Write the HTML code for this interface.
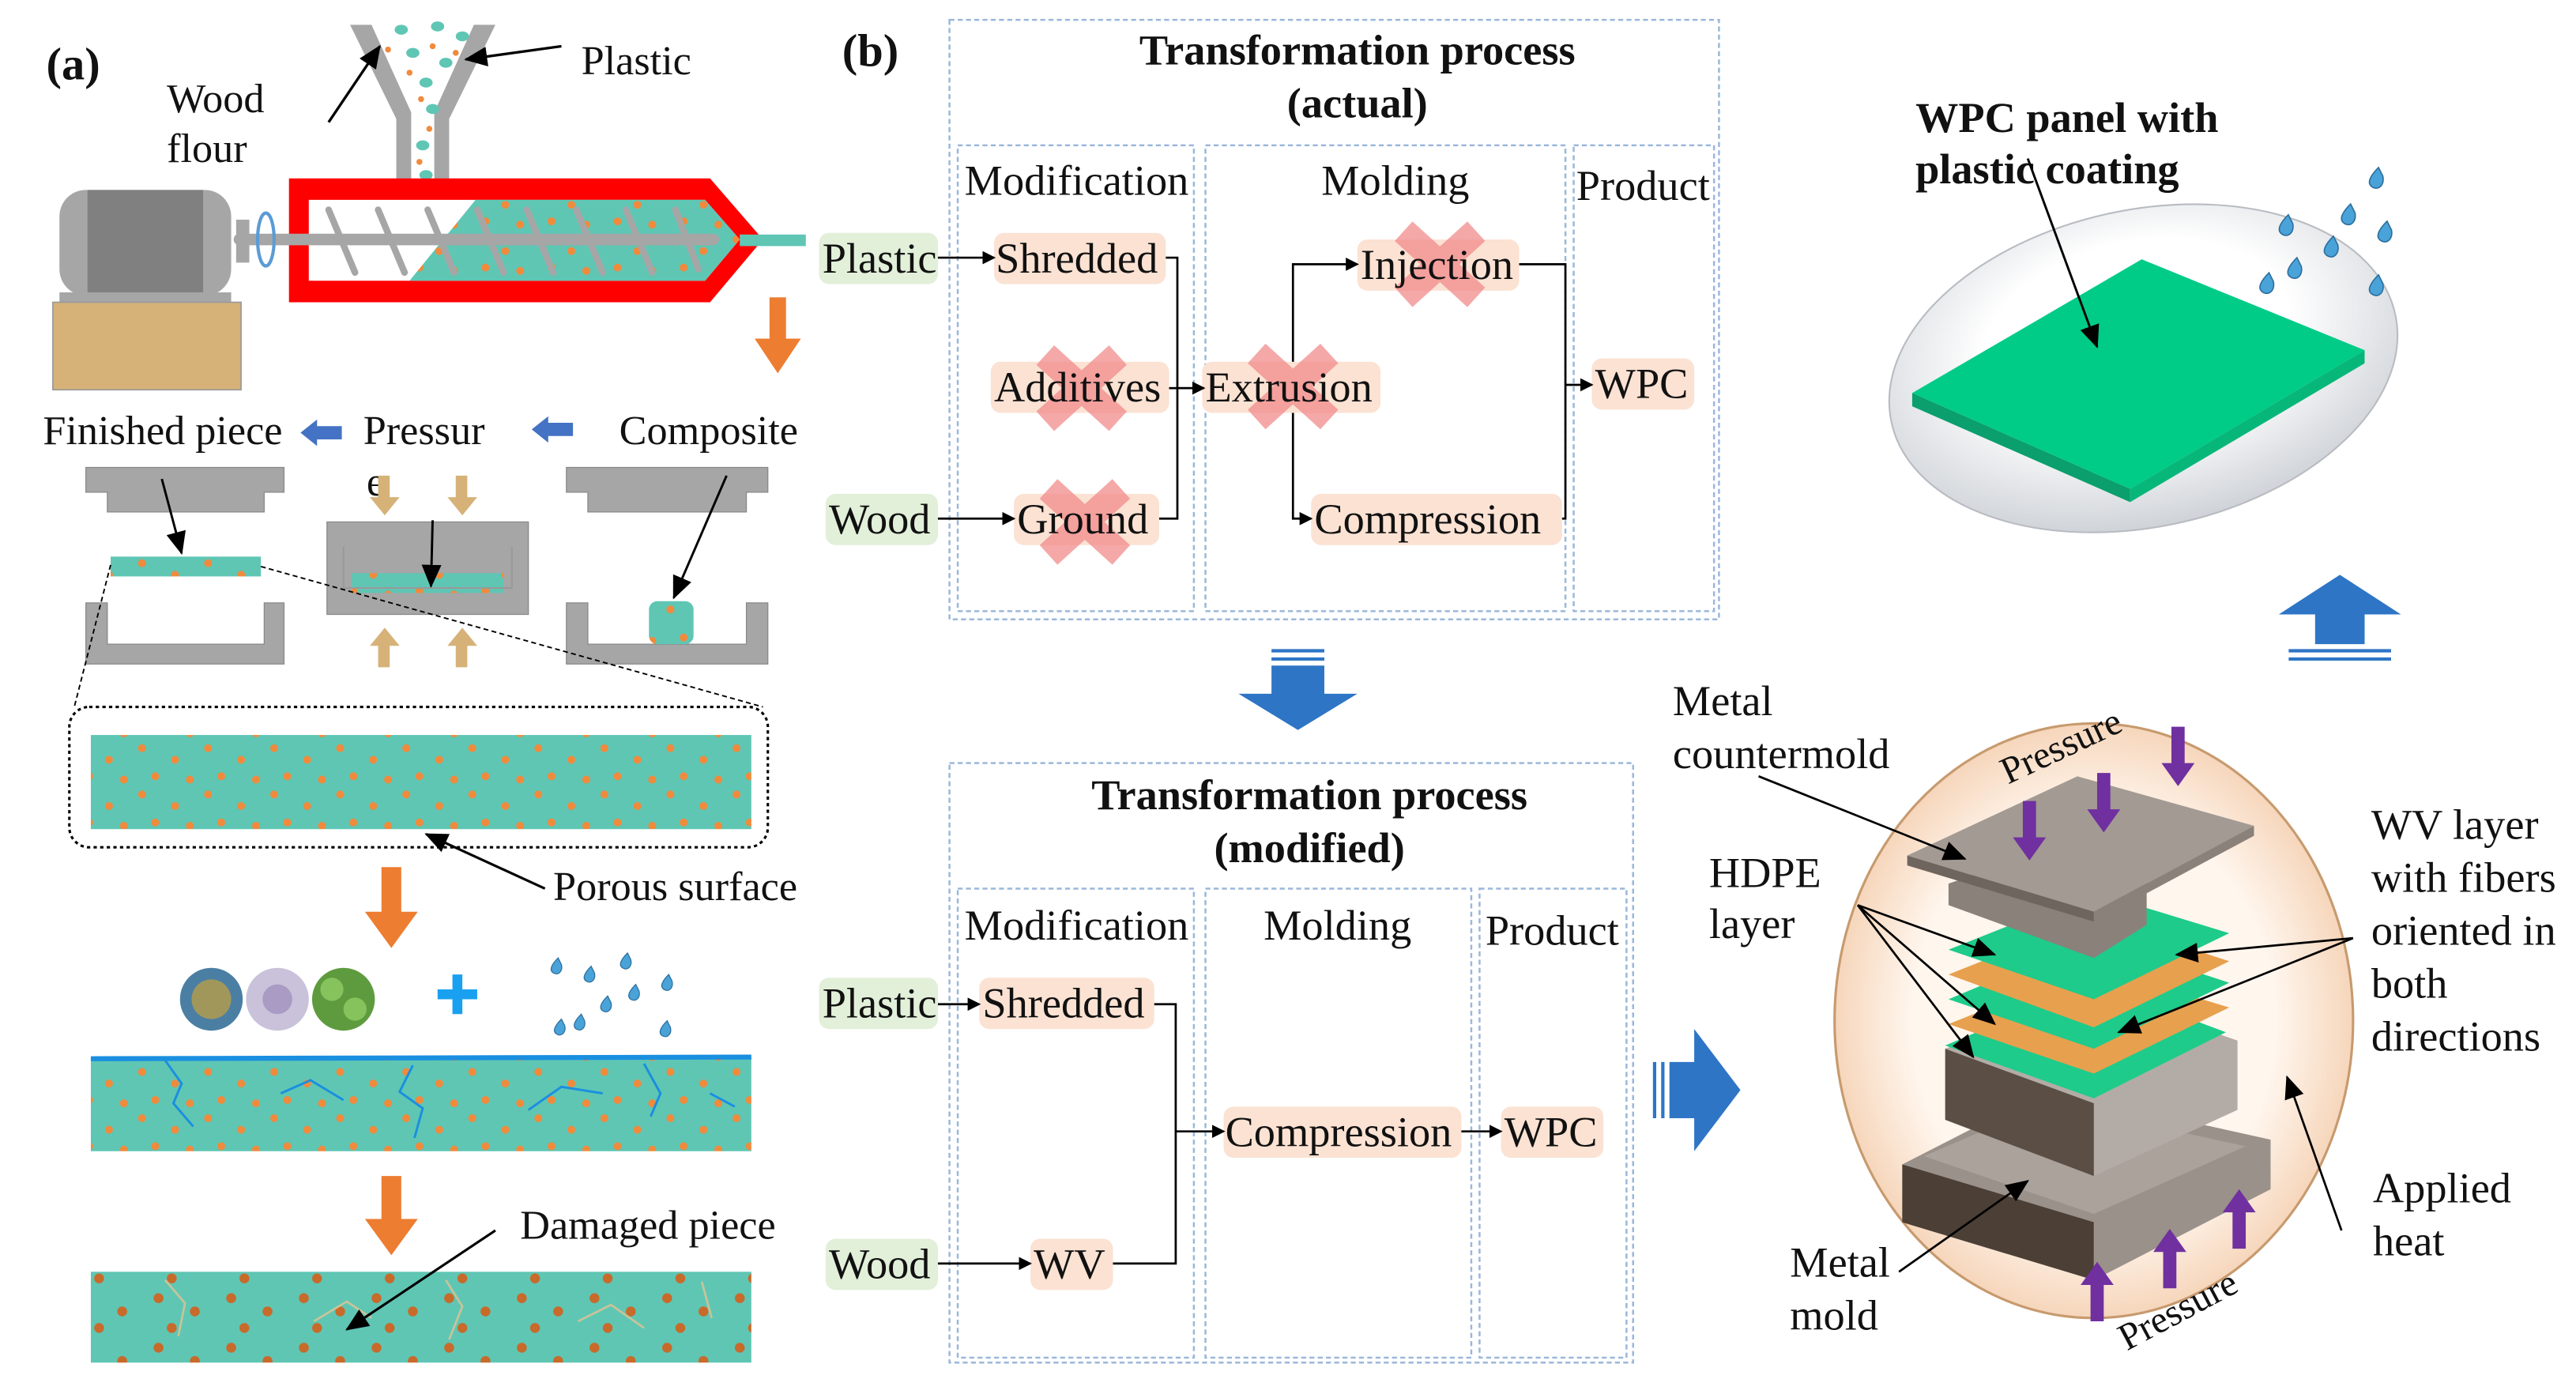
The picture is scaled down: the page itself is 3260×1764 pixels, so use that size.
<!DOCTYPE html>
<html><head><meta charset="utf-8"><style>
html,body{margin:0;padding:0;background:#fff;}
svg{display:block;}
text{font-family:"Liberation Serif",serif;fill:#111;}
</style></head><body>
<svg width="3260" height="1764" viewBox="0 0 1560 844" preserveAspectRatio="none" xmlns="http://www.w3.org/2000/svg">
<defs>
<pattern id="dots" width="40" height="28" patternUnits="userSpaceOnUse">
<rect width="40" height="28" fill="#5fc6b4"/>
<circle cx="6" cy="5" r="2.4" fill="#f08a3c"/><circle cx="26" cy="12" r="2.4" fill="#f08a3c"/><circle cx="14" cy="22" r="2.4" fill="#f08a3c"/><circle cx="35" cy="24" r="2.4" fill="#f08a3c"/>
</pattern>
<pattern id="dots2" width="44" height="30" patternUnits="userSpaceOnUse">
<rect width="44" height="30" fill="#5fc6b4"/>
<circle cx="8" cy="6" r="3" fill="#c86a2a"/><circle cx="30" cy="14" r="3" fill="#c86a2a"/><circle cx="16" cy="24" r="3" fill="#c86a2a"/>
</pattern>
<marker id="ar" markerWidth="8" markerHeight="8" refX="7" refY="4" orient="auto" markerUnits="userSpaceOnUse"><path d="M0,0 L8,4 L0,8 z" fill="#000"/></marker>
<marker id="arB" markerWidth="14" markerHeight="12" refX="13" refY="6" orient="auto" markerUnits="userSpaceOnUse"><path d="M0,0 L14,6 L0,12 z" fill="#000"/></marker>
<radialGradient id="peach" cx="0.5" cy="0.5" r="0.5"><stop offset="0.7" stop-color="#fff6ee"/><stop offset="1" stop-color="#f6d6bb"/></radialGradient>
<radialGradient id="glass" cx="0.5" cy="0.4" r="0.6"><stop offset="0.5" stop-color="#ffffff"/><stop offset="1" stop-color="#cfd3d8"/></radialGradient>
<g id="drop"><path d="M0,0 C-3,3 -6,7 -3,9 C0,11 3,8 2,4 Z" fill="#4aa3d8" stroke="#2c6f9e" stroke-width="0.6"/></g>
<g id="X"><path d="M-22,-20 L22,20 M22,-20 L-22,20" stroke="#f28b8b" stroke-width="16" opacity="0.75"/></g>
</defs>

<!-- ========== PANEL A ========== -->
<text x="28" y="48" font-size="28" font-weight="bold">(a)</text>
<text x="101" y="68" font-size="25">Wood</text>
<text x="101" y="98" font-size="25">flour</text>
<text x="352" y="45" font-size="25">Plastic</text>
<path d="M212,15 L225,15 L249,68 L249,110 L240,110 L240,72 Z" fill="#a6a6a6"/>
<path d="M300,15 L287,15 L263,68 L263,110 L272,110 L272,72 Z" fill="#a6a6a6"/>
<g fill="#5fc6b4"><ellipse cx="243" cy="18" rx="4" ry="3"/><ellipse cx="265" cy="16" rx="4" ry="3"/><ellipse cx="280" cy="22" rx="4" ry="3"/><ellipse cx="250" cy="32" rx="4" ry="3"/><ellipse cx="270" cy="38" rx="4" ry="3"/><ellipse cx="258" cy="50" rx="4" ry="3"/><ellipse cx="262" cy="66" rx="4" ry="3"/><ellipse cx="256" cy="88" rx="4" ry="3"/><ellipse cx="258" cy="106" rx="4" ry="3"/></g>
<g fill="#f08a3c"><circle cx="235" cy="30" r="1.8"/><circle cx="262" cy="28" r="1.8"/><circle cx="248" cy="44" r="1.8"/><circle cx="276" cy="32" r="1.8"/><circle cx="255" cy="60" r="1.8"/><circle cx="260" cy="78" r="1.8"/><circle cx="254" cy="98" r="1.8"/></g>
<line x1="199" y1="74" x2="230" y2="28" stroke="#000" stroke-width="1.6" marker-end="url(#arB)"/>
<line x1="340" y1="28" x2="282" y2="36" stroke="#000" stroke-width="1.6" marker-end="url(#arB)"/>
<path d="M175,108 L430,108 L462,145 L430,183 L175,183 Z" fill="#ff0000"/>
<path d="M187,121 L427,121 L448,145 L427,170 L187,170 Z" fill="#fff"/>
<path d="M248,170 L288,121 L427,121 L448,145 L427,170 Z" fill="url(#dots)"/>
<rect x="448" y="142" width="40" height="7" fill="#5fc6b4"/>
<line x1="145" y1="145" x2="432" y2="145" stroke="#a6a6a6" stroke-width="7" stroke-linecap="round"/>
<g stroke="#a6a6a6" stroke-width="4" stroke-linecap="round"><line x1="199" y1="127" x2="215" y2="165"/><line x1="229" y1="127" x2="245" y2="165"/><line x1="259" y1="127" x2="275" y2="165"/><line x1="289" y1="127" x2="305" y2="165"/><line x1="319" y1="127" x2="335" y2="165"/><line x1="349" y1="127" x2="365" y2="165"/><line x1="379" y1="127" x2="395" y2="165"/><line x1="409" y1="127" x2="423" y2="163"/></g>
<rect x="36" y="115" width="104" height="64" rx="16" fill="#a6a6a6"/>
<rect x="53" y="115" width="70" height="64" fill="#808080"/>
<rect x="143" y="133" width="8" height="26" fill="#a6a6a6"/>
<ellipse cx="161" cy="145" rx="5" ry="16" fill="none" stroke="#5b9bd5" stroke-width="2"/>
<rect x="36" y="177" width="104" height="6" fill="#a6a6a6"/>
<rect x="32" y="183" width="114" height="53" fill="#d6b279" stroke="#999" stroke-width="0.8"/>
<path d="M466,180 h10 v25 h9 l-14,21 l-14,-21 h9 z" fill="#ed7d31"/>
<text x="26" y="269" font-size="25">Finished piece</text>
<path d="M182,262 L192,254 L192,258 L207,258 L207,266 L192,266 L192,270 Z" fill="#4472c4"/>
<text x="220" y="269" font-size="25">Pressur</text>
<text x="222" y="300" font-size="25">e</text>
<path d="M322,260 L332,252 L332,256 L347,256 L347,264 L332,264 L332,268 Z" fill="#4472c4"/>
<text x="375" y="269" font-size="25">Composite</text>
<path d="M52,283 H172 V298 H160 V310 H65 V298 H52 Z" fill="#a6a6a6" stroke="#888" stroke-width="0.6"/>
<rect x="67" y="337" width="91" height="12" fill="url(#dots)"/>
<path d="M52,365 H65 V390 H160 V365 H172 V402 H52 Z" fill="#a6a6a6" stroke="#888" stroke-width="0.6"/>
<line x1="98" y1="290" x2="110" y2="335" stroke="#000" stroke-width="1.4" marker-end="url(#arB)"/>
<rect x="198" y="316" width="122" height="56" fill="#a6a6a6" stroke="#888" stroke-width="0.6"/>
<rect x="213" y="347" width="92" height="12" fill="url(#dots)"/>
<path d="M208,331 V356 H310 V331" fill="none" stroke="#999" stroke-width="1"/>
<line x1="262" y1="315" x2="261" y2="355" stroke="#000" stroke-width="1.4" marker-end="url(#arB)"/>
<g fill="#d6b279"><path d="M229,288 h7 v13 h6 l-9,11 l-9,-11 h5 z"/><path d="M276,288 h7 v13 h6 l-9,11 l-9,-11 h5 z"/><path d="M229,404 h7 v-13 h6 l-9,-11 l-9,11 h5 z"/><path d="M276,404 h7 v-13 h6 l-9,-11 l-9,11 h5 z"/></g>
<path d="M343,283 H465 V298 H452 V310 H356 V298 H343 Z" fill="#a6a6a6" stroke="#888" stroke-width="0.6"/>
<path d="M343,365 H356 V390 H452 V365 H465 V402 H343 Z" fill="#a6a6a6" stroke="#888" stroke-width="0.6"/>
<rect x="393" y="364" width="27" height="26" rx="5" fill="url(#dots)"/>
<line x1="440" y1="288" x2="408" y2="362" stroke="#000" stroke-width="1.4" marker-end="url(#arB)"/>
<line x1="67" y1="342" x2="45" y2="428" stroke="#000" stroke-width="0.9" stroke-dasharray="3,2"/>
<line x1="158" y1="343" x2="462" y2="428" stroke="#000" stroke-width="0.9" stroke-dasharray="3,2"/>
<rect x="42" y="428" width="423" height="85" rx="12" fill="none" stroke="#000" stroke-width="1.5" stroke-dasharray="2,2"/>
<rect x="55" y="445" width="400" height="57" fill="url(#dots)"/>
<line x1="330" y1="538" x2="258" y2="505" stroke="#000" stroke-width="1.5" marker-end="url(#arB)"/>
<text x="335" y="545" font-size="25">Porous surface</text>
<path d="M231,525 h12 v27 h10 l-16,22 l-16,-22 h10 z" fill="#ed7d31"/>
<circle cx="128" cy="605" r="19" fill="#4a7fa3"/><circle cx="128" cy="605" r="12" fill="#c7a13c" opacity="0.7"/>
<circle cx="168" cy="605" r="19" fill="#c9c2da"/><circle cx="168" cy="605" r="9" fill="#a99bc4"/>
<circle cx="208" cy="605" r="19" fill="#5e9b3f"/><circle cx="201" cy="599" r="7" fill="#86c35c"/><circle cx="215" cy="611" r="7" fill="#86c35c"/>
<path d="M265,602 h24 M277,590 v24" stroke="#1aa0f0" stroke-width="6"/>
<g><use href="#drop" x="338" y="580"/><use href="#drop" x="358" y="585"/><use href="#drop" x="380" y="577"/><use href="#drop" x="405" y="590"/><use href="#drop" x="385" y="596"/><use href="#drop" x="368" y="603"/><use href="#drop" x="352" y="614"/><use href="#drop" x="404" y="618"/><use href="#drop" x="340" y="617"/></g>
<rect x="55" y="640" width="400" height="57" fill="url(#dots)"/>
<line x1="55" y1="641" x2="455" y2="640" stroke="#1a8fe0" stroke-width="3"/>
<g stroke="#1a8fe0" stroke-width="1.4" fill="none"><path d="M100,642 l10,14 l-5,12 l12,14"/><path d="M170,662 l18,-8 l20,12"/><path d="M250,645 l-8,16 l14,10 l-5,18"/><path d="M320,672 l20,-14 l25,4"/><path d="M390,644 l10,18 l-6,14"/><path d="M430,662 l15,8"/></g>
<path d="M231,712 h12 v26 h10 l-16,22 l-16,-22 h10 z" fill="#ed7d31"/>
<text x="315" y="750" font-size="25">Damaged piece</text>
<rect x="55" y="770" width="400" height="55" fill="url(#dots2)"/>
<g stroke="#c8c49a" stroke-width="1.3" fill="none"><path d="M100,775 l12,14 l-4,20"/><path d="M190,800 l20,-12 l15,10"/><path d="M270,775 l10,16 l-8,20"/><path d="M350,800 l20,-10 l20,14"/><path d="M425,776 l6,22"/></g>
<line x1="300" y1="745" x2="210" y2="805" stroke="#000" stroke-width="1.5" marker-end="url(#arB)"/>

<!-- ========== PANEL B ========== -->
<text x="510" y="40" font-size="28" font-weight="bold">(b)</text>
<g fill="none" stroke="#9bb7da" stroke-width="1.2" stroke-dasharray="3,2">
<rect x="575" y="12" width="466" height="363"/>
<rect x="580" y="88" width="143" height="282"/><rect x="730" y="88" width="218" height="282"/><rect x="953" y="88" width="85" height="282"/>
<rect x="575" y="462" width="414" height="363"/>
<rect x="580" y="538" width="143" height="284"/><rect x="730" y="538" width="161" height="284"/><rect x="896" y="538" width="89" height="284"/>
</g>
<g font-size="26" font-weight="bold" text-anchor="middle"><text x="822" y="39">Transformation process</text><text x="822" y="71">(actual)</text><text x="793" y="490">Transformation process</text><text x="793" y="522">(modified)</text></g>
<g font-size="26" text-anchor="middle"><text x="652" y="118">Modification</text><text x="845" y="118">Molding</text><text x="995" y="121">Product</text><text x="652" y="569">Modification</text><text x="810" y="569">Molding</text><text x="940" y="572">Product</text></g>
<g fill="#e2efd9"><rect x="496" y="141" width="72" height="31" rx="6"/><rect x="500" y="299" width="68" height="31" rx="6"/><rect x="496" y="592" width="72" height="31" rx="6"/><rect x="500" y="750" width="68" height="31" rx="6"/></g>
<g fill="#fbe2d3"><rect x="602" y="141" width="104" height="31" rx="6"/><rect x="600" y="219" width="108" height="31" rx="6"/><rect x="728" y="219" width="108" height="31" rx="6"/><rect x="614" y="299" width="88" height="31" rx="6"/><rect x="822" y="145" width="98" height="31" rx="6"/><rect x="794" y="299" width="152" height="31" rx="6"/><rect x="964" y="217" width="62" height="31" rx="6"/>
<rect x="593" y="592" width="106" height="31" rx="6"/><rect x="624" y="750" width="50" height="31" rx="6"/><rect x="741" y="670" width="144" height="31" rx="6"/><rect x="909" y="670" width="62" height="31" rx="6"/></g>
<use href="#X" x="655" y="235"/><use href="#X" x="657" y="316"/><use href="#X" x="783" y="234"/><use href="#X" x="872" y="160"/>
<g font-size="26"><text x="498" y="165">Plastic</text><text x="603" y="165">Shredded</text><text x="602" y="243">Additives</text><text x="730" y="243">Extrusion</text><text x="502" y="323">Wood</text><text x="616" y="323">Ground</text><text x="824" y="169">Injection</text><text x="796" y="323">Compression</text><text x="966" y="241">WPC</text>
<text x="498" y="616">Plastic</text><text x="595" y="616">Shredded</text><text x="502" y="774">Wood</text><text x="626" y="774">WV</text><text x="742" y="694">Compression</text><text x="911" y="694">WPC</text></g>
<g stroke="#000" stroke-width="1.3" fill="none">
<line x1="568" y1="156" x2="602" y2="156" marker-end="url(#ar)"/>
<line x1="568" y1="314" x2="614" y2="314" marker-end="url(#ar)"/>
<polyline points="706,156 713,156 713,314 702,314"/>
<line x1="708" y1="235" x2="713" y2="235"/>
<line x1="713" y1="235" x2="729" y2="235" marker-end="url(#ar)"/>
<polyline points="783,219 783,160 822,160" marker-end="url(#ar)"/>
<polyline points="783,250 783,314 794,314" marker-end="url(#ar)"/>
<polyline points="920,160 948,160 948,314 946,314"/>
<line x1="948" y1="233" x2="964" y2="233" marker-end="url(#ar)"/>
<line x1="568" y1="608" x2="593" y2="608" marker-end="url(#ar)"/>
<line x1="568" y1="765" x2="624" y2="765" marker-end="url(#ar)"/>
<polyline points="699,608 712,608 712,765 674,765"/>
<line x1="712" y1="685" x2="741" y2="685" marker-end="url(#ar)"/>
<line x1="885" y1="685" x2="909" y2="685" marker-end="url(#ar)"/>
</g>
<path d="M770,393 h32 v2 h-32 z M770,398 h32 v2 h-32 z M770,403 h32 v17 h20 l-36,22 l-36,-22 h20 z" fill="#2e75c6"/>
<path d="M1001,643 h2 v34 h-2 z M1006,643 h2 v34 h-2 z M1011,643 h15 v-20 l28,37 l-28,37 v-20 h-15 z" fill="#2e75c6"/>
<path d="M1386,400 h62 v-2 h-62 z M1386,395 h62 v-2 h-62 z M1402,390 h30 v-18 h22 l-37,-24 l-37,24 h22 z" fill="#2e75c6"/>

<!-- WPC panel -->
<ellipse cx="1298" cy="223" rx="156" ry="96" fill="url(#glass)" stroke="#b8bcc2" stroke-width="1" transform="rotate(-12 1298 223)"/>
<path d="M1158,238 L1297,157 L1432,212 L1290,296 Z" fill="#00cc88"/>
<path d="M1158,238 L1290,296 L1290,304 L1158,246 Z" fill="#0a9f6c"/>
<path d="M1290,296 L1432,212 L1432,220 L1290,304 Z" fill="#07b77a"/>
<text x="1160" y="80" font-size="26" font-weight="bold">WPC panel with</text>
<text x="1160" y="111" font-size="26" font-weight="bold">plastic coating</text>
<line x1="1228" y1="96" x2="1270" y2="210" stroke="#000" stroke-width="1.4" marker-end="url(#arB)"/>
<g transform="scale(1.3)"><use href="#drop" x="1108" y="78"/><use href="#drop" x="1095" y="95"/><use href="#drop" x="1066" y="100"/><use href="#drop" x="1087" y="110"/><use href="#drop" x="1070" y="120"/><use href="#drop" x="1057" y="127"/><use href="#drop" x="1112" y="103"/><use href="#drop" x="1108" y="128"/></g>

<!-- mold circle -->
<ellipse cx="1268" cy="618" rx="157" ry="180" fill="url(#peach)" stroke="#c79a6e" stroke-width="1.5"/>
<path d="M1152,705 L1240,660 L1375,690 L1375,720 L1268,775 L1152,740 Z" fill="#9a918a"/>
<path d="M1152,705 L1268,740 L1268,775 L1152,740 Z" fill="#4b3f36"/>
<path d="M1268,740 L1375,690 L1375,720 L1268,775 Z" fill="#9a918a"/>
<path d="M1165,700 L1240,668 L1360,694 L1268,735 Z" fill="#aaa29b"/>
<path d="M1178,635 L1268,600 L1355,630 L1355,672 L1268,712 L1178,678 Z" fill="#b3aca6"/>
<path d="M1178,635 L1268,668 L1268,712 L1178,678 Z" fill="#5a4e45"/>
<path d="M1178,633 L1268,595 L1348,625 L1268,665 Z" fill="#1ecb8a"/>
<path d="M1180,620 L1268,585 L1350,610 L1268,650 Z" fill="#e7a04e"/>
<path d="M1180,605 L1268,568 L1350,595 L1268,635 Z" fill="#1ecb8a"/>
<path d="M1180,590 L1268,555 L1350,582 L1268,622 Z" fill="#e7a04e"/>
<path d="M1180,575 L1268,540 L1350,565 L1268,605 Z" fill="#1ecb8a"/>
<path d="M1180,535 L1268,505 L1300,515 L1300,560 L1268,580 L1180,548 Z" fill="#8a817a"/>
<path d="M1155,518 L1258,470 L1365,500 L1268,552 Z" fill="#a29a93"/>
<path d="M1155,518 L1268,552 L1268,558 L1155,524 Z" fill="#6e655e"/>
<path d="M1268,552 L1365,500 L1365,506 L1268,558 Z" fill="#8a817a"/>
<g fill="#7030a0"><path d="M1225,485 h8 v22 h6 l-10,14 l-10,-14 h6 z"/><path d="M1270,468 h8 v22 h6 l-10,14 l-10,-14 h6 z"/><path d="M1315,440 h8 v22 h6 l-10,14 l-10,-14 h6 z"/>
<path d="M1266,800 h8 v-22 h6 l-10,-14 l-10,14 h6 z"/><path d="M1310,780 h8 v-22 h6 l-10,-14 l-10,14 h6 z"/><path d="M1352,756 h8 v-22 h6 l-10,-14 l-10,14 h6 z"/></g>
<text x="1216" y="475" font-size="23" transform="rotate(-25 1216 475)">Pressure</text>
<text x="1288" y="818" font-size="23" transform="rotate(-28 1288 818)">Pressure</text>
<g font-size="26"><text x="1013" y="433">Metal</text><text x="1013" y="465">countermold</text><text x="1035" y="537">HDPE</text><text x="1035" y="568">layer</text>
<text x="1436" y="508">WV layer</text><text x="1436" y="540">with fibers</text><text x="1436" y="572">oriented in</text><text x="1436" y="604">both</text><text x="1436" y="636">directions</text>
<text x="1437" y="728">Applied</text><text x="1437" y="760">heat</text><text x="1084" y="773">Metal</text><text x="1084" y="805">mold</text></g>
<g stroke="#000" stroke-width="1.3" fill="none">
<line x1="1065" y1="470" x2="1190" y2="520" marker-end="url(#arB)"/>
<line x1="1125" y1="548" x2="1208" y2="578" marker-end="url(#arB)"/>
<line x1="1125" y1="548" x2="1208" y2="620" marker-end="url(#arB)"/>
<line x1="1125" y1="548" x2="1195" y2="640" marker-end="url(#arB)"/>
<line x1="1425" y1="568" x2="1318" y2="578" marker-end="url(#arB)"/>
<line x1="1425" y1="568" x2="1283" y2="625" marker-end="url(#arB)"/>
<line x1="1418" y1="745" x2="1385" y2="652" marker-end="url(#arB)"/>
<line x1="1150" y1="770" x2="1228" y2="715" marker-end="url(#arB)"/>
</g>
</svg>
</body></html>
